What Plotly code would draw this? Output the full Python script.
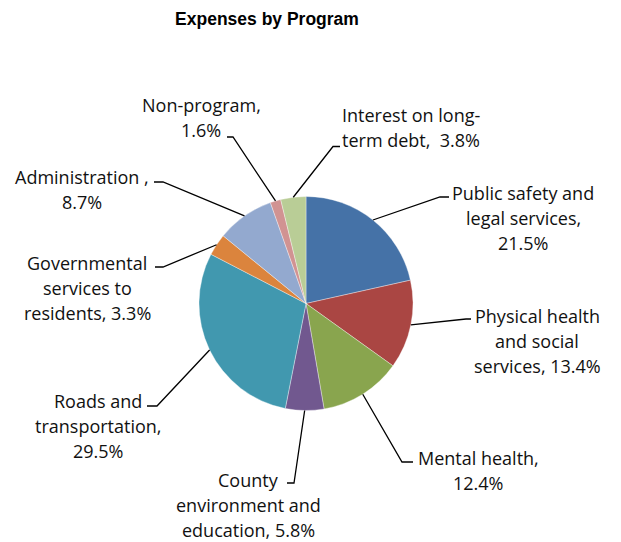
import math
import plotly.graph_objects as go

# ---- data ----
categories = [
    "Public safety and legal services",
    "Physical health and social services",
    "Mental health",
    "County environment and education",
    "Roads and transportation",
    "Governmental services to residents",
    "Administration",
    "Non-program",
    "Interest on long-term debt",
]
percent = [21.5, 13.4, 12.4, 5.8, 29.5, 3.3, 8.7, 1.6, 3.8]
label_lines = [
    ["Public safety and", "legal services,", "21.5%"],
    ["Physical health", "and social", "services, 13.4%"],
    ["Mental health,", "12.4%"],
    ["County", "environment and", "education, 5.8%"],
    ["Roads and", "transportation,", "29.5%"],
    ["Governmental", "services to", "residents, 3.3%"],
    ["Administration ,", "8.7%"],
    ["Non-program,", "1.6%"],
    ["Interest on long-", "term debt,  3.8%"],
]
colors = ["#4572A7", "#AA4643", "#89A54E", "#71588F", "#4198AF",
          "#DB843D", "#93A9CF", "#D19392", "#B9CD96"]

# ---- layout (pixels) ----
W, H = 621, 542
CX, CY, R = 306.0, 303.5, 107.0
# label block centre x, first line y, leader elbow, leader end
label_cx = [523, 537, 478, 248, 98, 87, 82, 201, 411]
label_y0 = [193, 316, 458, 480, 401, 263, 177, 105, 115]
elbow = [(440, 197), (466, 319), (402, 462), (294, 483), (157, 406),
         (163, 267), (163, 182), (233, 137), (333, 146.5)]
lend = [(449, 197), (471, 319), (413, 462), (287, 483), (147, 406),
        (155, 267), (154, 182), (227, 137), (340, 146.5)]
LINE_H = 25


def px(x):
    return x / W


def py(y):
    return 1 - y / H


fig = go.Figure(go.Pie(
    labels=categories, values=percent, sort=False, direction="clockwise",
    rotation=0, textinfo="none", hoverinfo="label+percent",
    marker=dict(colors=colors, line=dict(color="rgba(255,255,255,0.6)", width=0.6)),
    domain=dict(x=[px(CX - R), px(CX + R)], y=[py(CY + R), py(CY - R)]),
    showlegend=False,
))

total = sum(percent)
shapes = []
annotations = []
cum = 0.0
for i, v in enumerate(percent):
    mid = (cum + v / 2) / total * 2 * math.pi
    cum += v
    sx = CX + R * math.sin(mid)
    sy = CY - R * math.cos(mid)
    ex, ey = elbow[i]
    tx, ty = lend[i]
    path = f"M {px(sx)},{py(sy)} L {px(ex)},{py(ey)} L {px(tx)},{py(ty)}"
    shapes.append(dict(type="path", xref="paper", yref="paper", path=path,
                       line=dict(color="black", width=1.3)))
    for k, t in enumerate(label_lines[i]):
        annotations.append(dict(
            x=px(label_cx[i]), y=py(label_y0[i] + k * LINE_H),
            xref="paper", yref="paper", text=t, showarrow=False,
            xanchor="center", yanchor="middle",
            font=dict(family="Open Sans", size=18, color="#111111"),
        ))

fig.update_layout(
    width=W, height=H,
    margin=dict(l=0, r=0, t=0, b=0),
    paper_bgcolor="white", plot_bgcolor="white",
    title=dict(text="<b>Expenses by Program</b>", x=px(267), y=py(19),
               xanchor="center", yanchor="middle", xref="paper", yref="paper",
               font=dict(family="Liberation Sans", size=17.5, color="black")),
    shapes=shapes, annotations=annotations,
)

fig.write_html("out.html")
